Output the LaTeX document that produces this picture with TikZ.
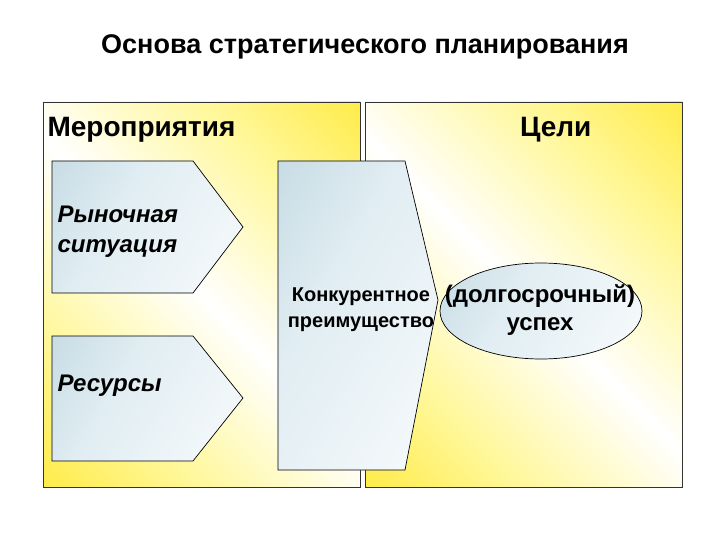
\documentclass[tikz,border=0pt]{standalone}
\usepackage{fontspec}
\setmainfont{Liberation Sans}
\usetikzlibrary{shapes.geometric}
\pgfdeclarehorizontalshading{panelsh}{100bp}{rgb(0bp)=(1,0.88,0); rgb(30bp)=(1,0.97,0.6); rgb(50bp)=(1,1,1); rgb(70bp)=(1,0.97,0.6); rgb(100bp)=(1,0.88,0)}
\pgfdeclarehorizontalshading{bluesh}{100bp}{rgb(0bp)=(0.72,0.82,0.86); rgb(40bp)=(0.88,0.93,0.95); rgb(100bp)=(1,1,1)}
\tikzset{
 panel/.style={draw=black!80, line width=0.8pt, shading=panelsh, shading angle=45},
 bluebox/.style={draw=black, line width=0.7pt, shading=bluesh, shading angle=-30},
 hd/.style={font=\bfseries\fontsize{28}{32}\selectfont, anchor=west},
 it/.style={font=\bfseries\itshape\fontsize{24}{30}\selectfont, align=left, anchor=west},
 sm/.style={font=\bfseries\fontsize{20}{26}\selectfont, align=center},
}
\begin{document}
\begin{tikzpicture}[x=1pt,y=-1pt]
\useasboundingbox (0,0) rectangle (720,540);
\node[font=\bfseries\fontsize{27}{30}\selectfont] (title) at (365,47) {Основа стратегического планирования};
\path[panel] (43,102) rectangle (360,487);
\path[panel] (365,102) rectangle (682,487);
\node[hd] (mer) at (44,130) {Мероприятия};
\node[hd, anchor=east] (cel) at (595,130) {Цели};
\path[bluebox] (52,161) -- (193,161) -- (243,227) -- (193,293) -- (52,293) -- cycle;
\path[bluebox] (52,336) -- (193,336) -- (243,398) -- (193,461) -- (52,461) -- cycle;
\path[bluebox] (541,311) ellipse [x radius=101, y radius=48];
\path[bluebox] (278,161) -- (405,161) -- (438,300) -- (405,470) -- (278,470) -- cycle;
\node[it] (rs) at (54,232) {Рыночная\\ситуация};
\node[it] (res) at (54,386) {Ресурсы};
\node[sm] (ka) at (361,310) {Конкурентное\\преимущество};
\node[font=\bfseries\fontsize{24}{28}\selectfont, align=center] (us) at (540,310) {(долгосрочный)\\успех};
\end{tikzpicture}
\end{document}
